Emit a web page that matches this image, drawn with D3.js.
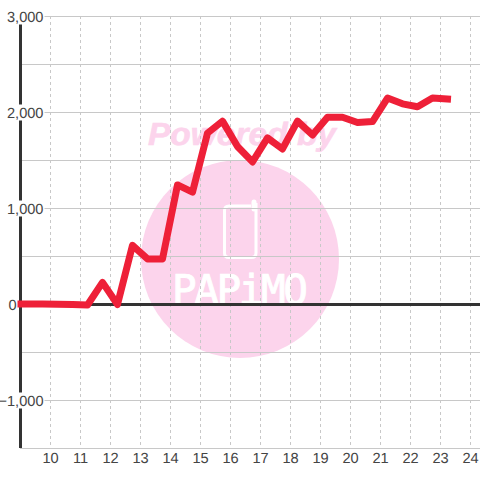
<!DOCTYPE html>
<html><head><meta charset="utf-8">
<script src="https://cdn.jsdelivr.net/npm/d3@7/dist/d3.min.js"></script>
<style>html,body{margin:0;padding:0;background:#fff}svg{display:block}text{text-rendering:geometricPrecision}</style>
</head><body><svg id="c" width="480" height="480"></svg>
<script>
const hours = [8.75,9.25,9.75,10.25,10.75,11.25,11.75,12.25,12.75,13.25,13.75,14.25,14.75,15.25,15.75,16.25,16.75,17.25,17.75,18.25,18.75,19.25,19.75,20.25,20.75,21.25,21.75,22.25,22.75,23.25];
const values = [0,0,0,-2,-5,-10,225,-5,610,470,470,1240,1165,1780,1905,1640,1480,1730,1615,1905,1760,1945,1945,1890,1900,2145,2085,2055,2145,2135];
const xTicks = [10,11,12,13,14,15,16,17,18,19,20,21,22,23,24];
const yLabelled = [3000,2000,1000,0,-1000];
const yGrid = [3000,2500,2000,1500,1000,500,-500,-1000,-1500];

const svg = d3.select('#c');
const x = d3.scaleLinear().domain([9,25]).range([20,500]);
const y = d3.scaleLinear().domain([3000,-1500]).range([16,448]);
const fmt = d3.format(',');
const font = '"Liberation Sans", Arial, sans-serif';
const pink = '#fcd4ec';

// watermark
const wm = svg.append('g');
wm.append('circle').attr('cx',240).attr('cy',259).attr('r',99).attr('fill',pink);
wm.append('text').text('Powered by').attr('x',148).attr('y',144.5)
  .attr('font-family',font).attr('font-weight','bold').attr('font-style','italic')
  .attr('font-size',32).attr('textLength',188).attr('lengthAdjust','spacingAndGlyphs')
  .attr('fill',pink).attr('stroke',pink).attr('stroke-width',.6);
wm.append('path').attr('d','M251 206H229Q224.5 206 224.5 210.5V253Q224.5 257.5 229 257.5H251.5Q256 257.5 256 253V203')
  .attr('fill','none').attr('stroke','#fff').attr('stroke-width',3);
wm.append('line').attr('x1',254).attr('x2',254).attr('y1',202).attr('y2',209)
  .attr('stroke','#fff').attr('stroke-width',5).attr('stroke-linecap','round');
wm.append('text').text('PAPiMO').attr('x',172).attr('y',304)
  .attr('font-family','"DejaVu Sans Mono", monospace').attr('font-size',41)
  .attr('textLength',136).attr('lengthAdjust','spacing').attr('fill','#fff')
  .attr('stroke','#fff').attr('stroke-width',.9);

// grid
const grid = svg.append('g');
grid.selectAll('line.h').data(yGrid).join('line').attr('class','h')
  .attr('x1',20).attr('x2',480).attr('y1',d=>Math.round(y(d))+.5).attr('y2',d=>Math.round(y(d))+.5)
  .attr('stroke','#c8c8c8').attr('stroke-width',1);
grid.selectAll('line.v').data(xTicks).join('line').attr('class','v')
  .attr('x1',d=>x(d)+.5).attr('x2',d=>x(d)+.5).attr('y1',y(3000)).attr('y2',y(-1500))
  .attr('stroke','#c8c8c8').attr('stroke-width',1).attr('stroke-dasharray','3,3');

const leftAxis = svg.append('g').attr('transform','translate(20.5,0)')
  .call(d3.axisLeft(y).tickValues(yLabelled).tickFormat(fmt).tickSize(0));
leftAxis.select('.domain').remove();
leftAxis.selectAll('text').attr('font-family',font).attr('font-size',14.6).attr('fill','#444')
  .attr('x',d=>d===0?-4:23).attr('dy','.35em');

const bottomAxis = svg.append('g').attr('transform',`translate(0,${y(-1500)})`)
  .call(d3.axisBottom(x).tickValues(xTicks).tickSize(0).tickPadding(0));
bottomAxis.select('.domain').remove();
bottomAxis.selectAll('text').attr('font-family',font).attr('font-size',14.6).attr('fill','#444').attr('y',5);

svg.append('line').attr('x1',20.5).attr('x2',20.5).attr('y1',y(3000)).attr('y2',y(-1500))
  .attr('stroke','#333').attr('stroke-width',3);
svg.append('line').attr('x1',20).attr('x2',480).attr('y1',y(0)+.5).attr('y2',y(0)+.5)
  .attr('stroke','#333').attr('stroke-width',3);

// series
const line = d3.line().x((d,i)=>x(hours[i])).y(d=>y(d));
svg.append('path').datum(values).attr('d',line).attr('fill','none')
  .attr('stroke','#ee2038').attr('stroke-width',7).attr('stroke-linejoin','round').attr('stroke-linecap','square');

// label backgrounds above axis and series
leftAxis.raise();
leftAxis.selectAll('.tick').each(function(){
  const b = this.querySelector('text').getBBox();
  d3.select(this).insert('rect','text').attr('x',b.x-1).attr('y',-8).attr('width',b.width+2).attr('height',16).attr('fill','#fff');
});
</script></body></html>
